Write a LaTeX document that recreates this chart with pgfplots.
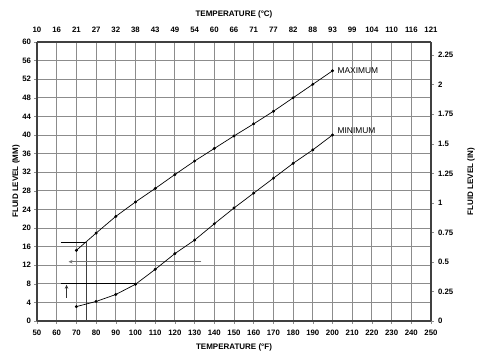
\documentclass[border=0pt]{standalone}
\usepackage{pgfplots}
\pgfplotsset{compat=1.18}
\usepackage{fontspec}
\setmainfont{Liberation Sans}
\usetikzlibrary{arrows.meta}
\definecolor{gridc}{gray}{0.55}
\definecolor{framec}{gray}{0.25}
\begin{document}
\begin{tikzpicture}
\useasboundingbox (-37bp,-39bp) rectangle (443bp,321bp);
\pgfplotsset{
  every axis/.append style={
    scale only axis, width=394bp, height=279bp,
    at={(0,0)}, anchor=south west,
    xmin=50, xmax=250,
    tick label style={font=\fontsize{7.8bp}{9bp}\selectfont\bfseries},
    label style={font=\fontsize{8bp}{9bp}\selectfont\bfseries},
    /pgf/number format/assume math mode=true,
    major tick length=2.5bp,
    tick style={gridc, line width=0.6bp},
  }
}
\begin{axis}[
  axis line style={framec, line width=1.3bp},
  axis x line*=bottom, axis y line*=left,
  ymin=0, ymax=60,
  xtick={50,60,...,250},
  ytick={0,4,...,60},
  grid=major,
  major grid style={gridc, line width=0.9bp},
  xlabel={TEMPERATURE (°F)},
  ylabel={FLUID LEVEL (MM)},
  xlabel style={at={(rel axis cs:0.5,0)}, anchor=center, yshift=-26bp},
  ylabel style={at={(rel axis cs:0,0.5)}, anchor=center, yshift=21bp},
  tick align=outside,
  xticklabel style={yshift=-3bp},
  clip=false,
]
% annotation lines
\addplot[black, line width=0.9bp] coordinates {(62,17) (75,17)};
\addplot[framec, line width=0.9bp] coordinates {(75,17) (75,0)};
\addplot[black!55, line width=0.9bp, -{Stealth[length=4bp,width=3.5bp]}] coordinates {(133.5,12.75) (66,12.75)};
\addplot[black, line width=0.9bp] coordinates {(62,8) (100,8)};
\addplot[black!80, line width=0.7bp, -{Stealth[length=4bp,width=3.5bp]}] coordinates {(65,5) (65,7.8)};
% maximum
\addplot[black, line width=0.7bp, mark=*, mark size=1.1bp] coordinates {
(70,15.2) (80,18.9) (90,22.5) (100,25.6) (110,28.5) (120,31.5) (130,34.4)
(140,37.1) (150,39.8) (160,42.4) (170,45.1) (180,48.0) (190,50.9) (200,53.8)};
% minimum
\addplot[black, line width=0.7bp, mark=*, mark size=1.1bp] coordinates {
(70,3.1) (80,4.2) (90,5.7) (100,7.9) (110,11.1) (120,14.5) (130,17.4)
(140,20.9) (150,24.3) (160,27.5) (170,30.7) (180,33.9) (190,36.8) (200,40.0)};
\node[anchor=west, font=\fontsize{8.4bp}{9bp}\selectfont, inner sep=1bp] at (axis cs:202,53.9) {MAXIMUM};
\node[anchor=west, font=\fontsize{8.4bp}{9bp}\selectfont, inner sep=1bp] at (axis cs:202,40.9) {MINIMUM};
\end{axis}
\begin{axis}[
  axis line style={framec, line width=1.3bp},
  axis x line*=top, axis y line*=right,
  ymin=0, ymax=2.3622,
  xtick={50,60,...,250},
  xticklabels={10,16,21,27,32,38,43,49,54,60,66,71,77,82,88,93,99,104,110,116,121},
  ytick={0,0.25,0.5,0.75,1,1.25,1.5,1.75,2,2.25},
  yticklabels={0,0.25,0.5,0.75,1,1.25,1.5,1.75,2,2.25},
  xlabel={TEMPERATURE (°C)},
  ylabel={FLUID LEVEL (IN)},
  xlabel style={at={(rel axis cs:0.5,1)}, anchor=center, yshift=28bp},
  ylabel style={at={(rel axis cs:1,0.5)}, anchor=center, rotate=0, yshift=-40bp},
  tick align=outside,
  xtick style={draw=none},
  xticklabel style={yshift=3bp},
  yticklabel style={xshift=1bp},
]
\end{axis}
\end{tikzpicture}
\end{document}
